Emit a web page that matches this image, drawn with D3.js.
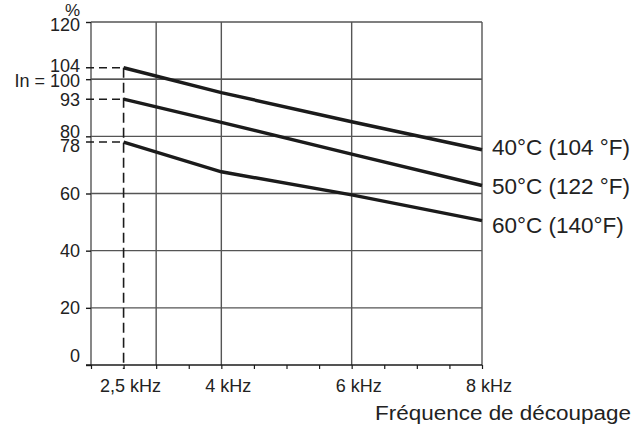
<!DOCTYPE html>
<html>
    <head>
        <meta charset="utf-8">
        <title>Déclassement en fonction de la fréquence de découpage</title>
        <script src="https://d3js.org/d3.v7.min.js"></script>
        <style>
            body { margin: 0; background: #fff; }
            text { font-family: "Liberation Sans", Arial, sans-serif; fill: #222; }
        </style>
    </head>
    <body>
        <svg width="643" height="430"></svg>
        <script>
            // data
            const freqs = [2.5, 4, 6, 8];
            const temp40 = [104, 95.3, 85.1, 75.3];
            const temp50 = [93, 84.9, 73.8, 62.8];
            const temp60 = [78, 67.6, 59.5, 50.5];
            const seriesLabels = ["40°C (104 °F)", "50°C (122 °F)", "60°C (140°F)"];
            const yGridValues = [20, 40, 60, 80, 100, 120];
            const yTickValues = [0, 20, 40, 60, 78, 80, 93, 100, 104, 120];
            const yMarkValues = [104, 93, 78];
            const xGridValues = [3, 4, 6, 8];
            const xLabelValues = [2.5, 4, 6, 8];
            const xMinorTicks = [2, 2.5, 3, 3.5, 4, 4.5, 5, 5.5, 6, 6.5, 7, 7.5, 8];

            const svg = d3.select("svg");

            // scales
            const x = d3.scaleLinear().domain([2, 8]).range([91, 482]);
            const y = d3.scaleLinear().domain([0, 120]).range([365, 22]);

            const ink = "#1b1b1b", gridCol = "#555";

            // grid
            svg.append("g").selectAll("line").data(yGridValues).join("line")
                .attr("x1", x(2)).attr("x2", x(8))
                .attr("y1", d => y(d)).attr("y2", d => y(d))
                .attr("stroke", d => d === 100 ? ink : gridCol)
                .attr("stroke-width", d => d === 100 ? 1.2 : 1.4);
            svg.append("g").selectAll("line").data(xGridValues).join("line")
                .attr("x1", d => x(d)).attr("x2", d => x(d))
                .attr("y1", y(120)).attr("y2", y(0))
                .attr("stroke", gridCol).attr("stroke-width", 1.4);

            // axes
            const yAxis = svg.append("g").attr("transform", `translate(${x(2)},0)`)
                .call(d3.axisLeft(y).tickValues(yTickValues.filter(v => !yMarkValues.includes(v))).tickSize(5).tickFormat(""));
            yAxis.select(".domain").attr("stroke", gridCol).attr("stroke-width", 1.4).attr("d", `M0,${y(120)}V${y(0)}`);
            yAxis.selectAll(".tick line").attr("stroke", ink).attr("stroke-width", 1.4);

            const xAxis = svg.append("g").attr("transform", `translate(0,${y(0)})`)
                .call(d3.axisBottom(x).tickValues(xMinorTicks).tickSize(4).tickFormat(""));
            xAxis.select(".domain").attr("stroke", ink).attr("stroke-width", 1.4).attr("d", `M${x(2) - 5},0H${x(8)}`);
            xAxis.selectAll(".tick line").attr("stroke", ink).attr("stroke-width", 1.2);

            // y tick labels (small nudges where the original moved them apart)
            const nudge = { 0: -9, 78: 3, 80: -5, 100: 1, 104: -2, 120: 3 };
            svg.append("g").selectAll("text").data(yTickValues).join("text")
                .attr("x", 80).attr("y", d => y(d) + (nudge[d] || 0))
                .attr("dy", "0.36em").attr("text-anchor", "end")
                .style("font-size", "18px")
                .text(d => d === 100 ? "In = 100" : d);
            svg.append("text").attr("x", 80).attr("y", 9.5).attr("dy", "0.36em")
                .attr("text-anchor", "end").style("font-size", "17px").text("%");

            // x tick labels
            svg.append("g").selectAll("text").data(xLabelValues).join("text")
                .attr("x", d => x(d) + 7).attr("y", 392)
                .attr("text-anchor", "middle")
                .style("font-size", "18px")
                .text(d => String(d).replace(".", ",") + " kHz");

            svg.append("text")
                .attr("transform", "translate(631,420) scale(1.07,1)")
                .attr("text-anchor", "end")
                .style("font-size", "21px")
                .text("Fréquence de découpage");

            // dashed markers at 2,5 kHz
            svg.append("line")
                .attr("x1", x(2.5)).attr("x2", x(2.5))
                .attr("y1", y(104)).attr("y2", y(0) + 4)
                .attr("stroke", ink).attr("stroke-width", 1.6)
                .attr("stroke-dasharray", "10,5");
            svg.append("g").selectAll("line").data(yMarkValues).join("line")
                .attr("x1", x(2) - 5).attr("x2", x(2.5))
                .attr("y1", d => y(d)).attr("y2", d => y(d))
                .attr("stroke", ink).attr("stroke-width", 1.6)
                .attr("stroke-dasharray", "8,5");

            // curves
            const series = [temp40, temp50, temp60];
            const line = d3.line().x((d, i) => x(freqs[i])).y(d => y(d));
            svg.append("g").selectAll("path").data(series).join("path")
                .attr("d", line)
                .attr("fill", "none")
                .attr("stroke", ink)
                .attr("stroke-width", 3.4);

            // labels at the right end
            const midY = y(temp50[temp50.length - 1]);
            svg.append("g").selectAll("text").data(seriesLabels).join("text")
                .attr("x", 492).attr("y", (d, i) => midY + (i - 1) * 39)
                .attr("dy", "0.36em")
                .style("font-size", "22.5px")
                .text(d => d);
        </script>
    </body>
</html>
